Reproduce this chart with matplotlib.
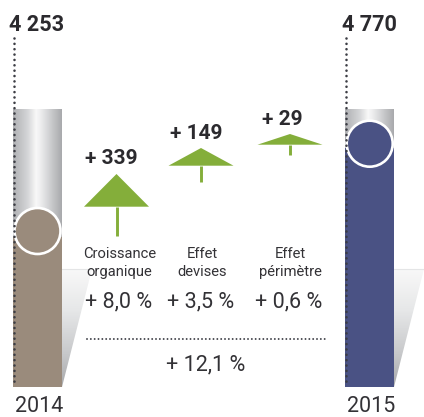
import numpy as np
import matplotlib
matplotlib.use("Agg")
import matplotlib.pyplot as plt
from matplotlib.patches import Polygon, Circle
from matplotlib.colors import LinearSegmentedColormap

# ---- data ----
years = ["2014", "2015"]
totals = [4253, 4770]
total_labels = ["4 253", "4 770"]
effects = [339, 149, 29]
effect_labels = ["+ 339", "+ 149", "+ 29"]
effect_names = ["Croissance\norganique", "Effet\ndevises", "Effet\npérimètre"]
effect_pcts = ["+ 8,0 %", "+ 3,5 %", "+ 0,6 %"]
total_pct = "+ 12,1 %"

# ---- value scale of the columns (broken baseline, as in the original) ----
BASE_VALUE = 3381
COLUMN_TOP_VALUE = 4997
PX_PER_UNIT = 0.172
BASE_PX = 387

# ---- layout, in figure pixels ----
W, H = 424, 417
col_left = [13, 345]
col_width = 49
col_colors = ["#9a8b7c", "#4a5284"]
circle_cx = [37.5, 369.7]
circle_cy = [231, 143.7]
circle_r = 23
arrow_x = [116.5, 201, 290]
arrow_base_y = [206.7, 165.7, 144.7]
arrow_apex_y = [174, 148, 134]
arrow_stem_end = [236, 181.7, 155]
arrow_half_w = 32.5
effect_label_x = [111, 196, 282.5]
effect_label_y = [158.5, 133.5, 119]
name_x = [119.5, 202, 290]
pct_x = [119, 201, 289]
total_label_x = [9, 342]
GREEN = "#84ae3a"
DARK = "#2b2a2e"
TEXT = "#333236"

plt.rcParams["font.family"] = ["Roboto", "DejaVu Sans"]
plt.rcParams["lines.scale_dashes"] = False

fig = plt.figure(figsize=(W / 100, H / 100), dpi=100, facecolor="white")

# pixel-layout axes
ax = fig.add_axes([0, 0, 1, 1], zorder=1)
ax.set_xlim(0, W)
ax.set_ylim(H, 0)
ax.axis("off")

# value axes: same box, y in the unit of the totals
val = fig.add_axes([0, 0, 1, 1], zorder=2, facecolor="none")
val.set_xlim(0, W)
val.set_ylim(BASE_VALUE - (H - BASE_PX) / PX_PER_UNIT,
             BASE_VALUE + BASE_PX / PX_PER_UNIT)
val.axis("off")

over = fig.add_axes([0, 0, 1, 1], zorder=3, facecolor="none")
over.set_xlim(0, W)
over.set_ylim(H, 0)
over.axis("off")

metal = LinearSegmentedColormap.from_list(
    "metal", [(0, "#b0b1b4"), (0.3, "#d5d6d8"), (0.47, "#f8f8f8"),
              (0.55, "#f0f0f1"), (0.8, "#c8c9cb"), (1, "#a9aaad")])
shade = LinearSegmentedColormap.from_list(
    "shade", [(0, "#f8f8f8"), (0.35, "#e6e7e8"), (0.7, "#c9cacc"), (1, "#a9aaac")])

for i in range(2):
    x0 = col_left[i]
    # metallic empty part of the column
    val.imshow(np.linspace(0, 1, 64)[None, :], cmap=metal, aspect="auto",
               extent=[x0, x0 + col_width, BASE_VALUE, COLUMN_TOP_VALUE], zorder=1)
    # value part
    val.bar(x0 + col_width / 2, totals[i] - BASE_VALUE, bottom=BASE_VALUE,
            width=col_width, color=col_colors[i], linewidth=0, zorder=2)
    # reflection beside the column
    rx = x0 + col_width
    tri = [(rx, 269), (rx + 30, 269), (rx, BASE_PX)]
    im = ax.imshow(np.linspace(0, 1, 64)[:, None], cmap=shade, aspect="auto",
                   extent=[rx, rx + 30, BASE_PX, 269], zorder=1)
    clip = Polygon(tri, transform=ax.transData, facecolor="none", edgecolor="none")
    ax.add_patch(clip)
    im.set_clip_path(clip)
    ax.plot([rx, rx + 30], [269, 269], color="#e4e5e6", lw=0.8, zorder=2)
    # circle
    over.add_patch(Circle((circle_cx[i], circle_cy[i]), circle_r,
                          facecolor=col_colors[i], edgecolor="white", lw=1.9, zorder=3))
    # dotted riser
    over.plot([x0 + 0.5, x0 + 0.5], [37.5, 386], color="#3c3d44", lw=1.9,
              linestyle=(0, (0.01, 3.85)), dash_capstyle="round", zorder=4)
    # labels
    over.text(total_label_x[i], 24.5, total_labels[i], fontsize=15.6,
              fontweight="bold", color=DARK, ha="left", va="center")
    over.text(x0 + col_width / 2 + 1.5, 407, years[i], fontsize=15.5, color=TEXT,
              ha="center", va="center")

# effects: green arrows
for i in range(3):
    cx = arrow_x[i]
    over.add_patch(Polygon([(cx - arrow_half_w, arrow_base_y[i]),
                            (cx, arrow_apex_y[i]),
                            (cx + arrow_half_w, arrow_base_y[i])],
                           closed=True, facecolor=GREEN, edgecolor="none", zorder=3))
    over.plot([cx, cx], [arrow_base_y[i], arrow_stem_end[i]], color=GREEN, lw=2.1,
              solid_capstyle="butt", zorder=3)
    over.text(effect_label_x[i], effect_label_y[i], effect_labels[i],
              fontsize=15, fontweight="bold", color=DARK, ha="center", va="center")
    over.text(name_x[i], 263, effect_names[i], fontsize=10.6, color=TEXT,
              ha="center", va="center", linespacing=1.32)
    over.text(pct_x[i], 302, effect_pcts[i], fontsize=15.5,
              color=TEXT, ha="center", va="center")

# total
over.plot([87, 326], [338.5, 338.5], color="#3c3d44", lw=1.4,
          linestyle=(0, (0.01, 2.75)), dash_capstyle="round", zorder=3)
over.text(205.5, 364.5, total_pct, fontsize=15.5, color=TEXT, ha="center", va="center")

fig.savefig("out.png", dpi=100, facecolor="white")
